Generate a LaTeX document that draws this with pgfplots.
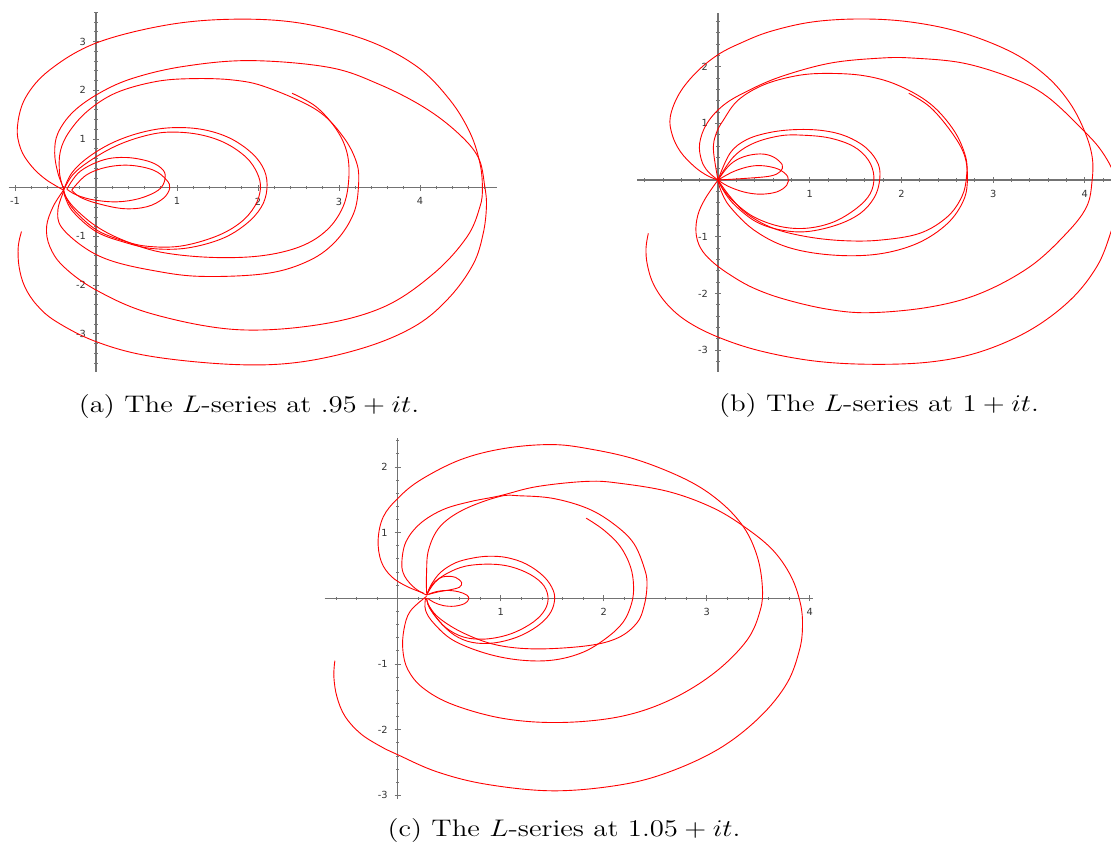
\documentclass[border=0pt]{standalone}
\usepackage{fontspec}
\usepackage{graphicx}
\usepackage{pgfplots}
\pgfplotsset{compat=1.18}
\newfontfamily\tickfont{DejaVu Sans}
\pgfplotsset{
 sage/.style={
   axis lines=middle,
   axis line style={-, black!55, line width=0.6pt},
   tick style={black!55, line width=0.4pt},
   major tick length=3pt, minor tick length=1.6pt,
   tick align=center,
   tick label style={font=\tickfont\fontsize{4.9}{5.5}\selectfont, text=black!80},
   clip=true,
   enlargelimits=false,
   anchor=origin,
 },
 lc/.style={red, line width=0.45pt, smooth, tension=0.6, mark=none, line join=round},
}
\begin{document}
\begin{tikzpicture}
\path[use as bounding box] (0,0) rectangle (555.5pt,-426pt);
% ---------------- (a) ----------------
\begin{axis}[sage, at={(48pt,-93.85pt)}, x=40.5pt, y=24.35pt,
  xmin=-1.08, xmax=4.95, ymin=-3.78, ymax=3.6,
  xtick={-1,1,2,3,4}, xticklabels={-1,1,2,3,4},
  ytick={-3,-2,-1,1,2,3}, yticklabels={-3,-2,-1,1,2,3},
  minor xtick={-1,-0.8,...,4.81}, minor ytick={-3.6,-3.4,...,3.5}]
\addplot[lc] coordinates {(-0.92,-0.90) (-0.96,-1.21) (-0.95,-1.62) (-0.88,-2.03) (-0.73,-2.41) (-0.49,-2.75) (0,-3.16) (0.67,-3.46) (1.70,-3.63) (2.52,-3.58) (3.34,-3.27) (3.96,-2.82) (4.37,-2.24) (4.66,-1.56) (4.78,-0.94) (4.82,-0.39) (4.80,0.02) (4.72,0.62) (4.47,1.12) (4.06,1.64) (3.50,2.12) (2.88,2.47) (1.90,2.61) (1.08,2.49) (0.46,2.25) (0.05,1.95) (-0.28,1.56) (-0.47,1.12) (-0.51,0.71) (-0.47,0.30) (-0.40,-0.01)};
\addplot[lc] coordinates {(-0.40,-0.05) (-0.53,-0.39) (-0.61,-0.80) (-0.57,-1.21) (-0.40,-1.62) (0,-2.10) (0.67,-2.58) (1.70,-2.91) (2.72,-2.82) (3.55,-2.45) (4.17,-1.76) (4.58,-1.01) (4.74,-0.39) (4.77,0) (4.74,0.50) (4.62,1.12) (4.37,1.80) (3.96,2.49) (3.34,3.03) (2.52,3.38) (1.70,3.46) (0.87,3.34) (0,2.97) (-0.57,2.42) (-0.87,1.85) (-0.97,1.25) (-0.93,0.80) (-0.80,0.45) (-0.62,0.17) (-0.40,-0.05)};
\addplot[lc] coordinates {(-0.40,-0.03) (-0.45,0.30) (-0.44,0.75) (-0.33,1.15) (-0.10,1.58) (0.25,1.95) (0.74,2.18) (1.20,2.24) (1.70,2.21) (2.11,2.06) (2.72,1.60) (3.05,1.05) (3.22,0.50) (3.24,0.02) (3.18,-0.53) (2.97,-1.08) (2.64,-1.49) (2.11,-1.76) (1.28,-1.82) (0.67,-1.69) (0.17,-1.49) (-0.16,-1.21) (-0.43,-0.80) (-0.47,-0.45) (-0.40,-0.08)};
\addplot[lc] coordinates {(2.42,1.94) (2.72,1.66) (2.97,1.19) (3.10,0.71) (3.12,0.16) (3.05,-0.39) (2.85,-0.87) (2.52,-1.21) (2.03,-1.40) (1.41,-1.43) (0.79,-1.32) (0.34,-1.08) (0.01,-0.80) (-0.24,-0.46) (-0.36,-0.22) (-0.40,-0.05)};
\addplot[lc] coordinates {(-0.40,-0.05) (-0.30,0.30) (-0.10,0.62) (0.20,0.92) (0.55,1.13) (0.91,1.23) (1.30,1.20) (1.65,1.02) (1.93,0.70) (2.08,0.35) (2.11,-0.03) (2.04,-0.40) (1.85,-0.75) (1.55,-1.05) (1.12,-1.24) (0.70,-1.25) (0.35,-1.12) (0.0,-0.90) (-0.28,-0.50) (-0.38,-0.20) (-0.40,-0.05)};
\addplot[lc] coordinates {(-0.40,-0.05) (-0.28,0.28) (-0.05,0.58) (0.25,0.86) (0.57,1.05) (0.88,1.14) (1.25,1.10) (1.58,0.93) (1.85,0.63) (1.99,0.30) (2.03,-0.02) (1.96,-0.38) (1.78,-0.72) (1.48,-1.00) (1.04,-1.20) (0.62,-1.20) (0.30,-1.07) (0.0,-0.86) (-0.26,-0.48) (-0.37,-0.20) (-0.40,-0.05)};
\addplot[lc] coordinates {(-0.36,-0.03) (-0.20,0.33) (0.09,0.57) (0.38,0.62) (0.67,0.53) (0.83,0.36) (0.85,0.16) (0.77,-0.05) (0.54,-0.22) (0.26,-0.29) (-0.03,-0.25) (-0.24,-0.15) (-0.36,-0.03)};
\addplot[lc] coordinates {(-0.30,-0.05) (-0.12,0.26) (0.13,0.42) (0.42,0.46) (0.71,0.36) (0.87,0.16) (0.91,-0.01) (0.83,-0.22) (0.63,-0.39) (0.34,-0.43) (0.01,-0.32) (-0.20,-0.19) (-0.30,-0.05)};
\end{axis}
% ---------------- (b) ----------------
\begin{axis}[sage, at={(359pt,-90pt)}, x=45.85pt, y=28.35pt,
  xmin=-0.88, xmax=4.29, ymin=-3.38, ymax=2.95,
  xtick={1,2,3,4}, xticklabels={1,2,3,4},
  ytick={-3,-2,-1,1,2}, yticklabels={-3,-2,-1,1,2},
  minor xtick={-0.8,-0.6,...,4.21}, minor ytick={-3.2,-3.0,...,2.9}]
\addplot[lc] coordinates {(-0.76,-0.94) (-0.785,-1.20) (-0.77,-1.50) (-0.70,-1.85) (-0.55,-2.20) (-0.33,-2.50) (0,-2.77) (0.45,-3.01) (1.04,-3.19) (1.66,-3.25) (2.31,-3.21) (2.86,-3.03) (3.40,-2.65) (3.84,-2.12) (4.13,-1.53) (4.28,-0.94) (4.36,-0.40) (4.33,0.05) (4.20,0.47) (4.00,0.85) (3.59,1.47) (3.22,1.79) (2.68,2.06) (2.13,2.15) (1.77,2.15) (1.22,2.06) (0.68,1.82) (0.31,1.56) (0.06,1.32) (-0.12,1.00) (-0.20,0.65) (-0.18,0.35) (-0.11,0.15) (0,0)};
\addplot[lc] coordinates {(0,0) (-0.14,-0.33) (-0.22,-0.62) (-0.24,-0.93) (-0.19,-1.20) (-0.07,-1.43) (0.12,-1.66) (0.38,-1.90) (0.72,-2.10) (1.20,-2.28) (1.66,-2.34) (2.31,-2.24) (2.86,-2.00) (3.40,-1.53) (3.80,-0.94) (4.02,-0.47) (4.08,0) (4.08,0.41) (4.00,0.85) (3.84,1.35) (3.59,1.82) (3.22,2.24) (2.68,2.59) (2.13,2.78) (1.59,2.84) (1.04,2.79) (0.57,2.62) (0.24,2.41) (0,2.21) (-0.23,1.91) (-0.42,1.53) (-0.52,1.12) (-0.50,0.80) (-0.41,0.50) (-0.26,0.24) (-0.12,0.08) (0,0)};
\addplot[lc] coordinates {(0,0) (-0.05,0.53) (-0.02,0.82) (0.06,1.06) (0.22,1.41) (0.50,1.68) (0.86,1.84) (1.19,1.88) (1.59,1.84) (1.95,1.68) (2.31,1.35) (2.57,0.88) (2.70,0.41) (2.71,0.06) (2.66,-0.29) (2.50,-0.65) (2.20,-0.94) (1.77,-1.06) (1.37,-1.07) (0.97,-1.00) (0.60,-0.85) (0.31,-0.59) (0.13,-0.29) (0,0)};
\addplot[lc] coordinates {(2.08,1.53) (2.31,1.29) (2.53,0.88) (2.68,0.47) (2.72,0.06) (2.68,-0.35) (2.50,-0.77) (2.17,-1.12) (1.73,-1.31) (1.22,-1.32) (0.75,-1.18) (0.39,-0.88) (0.13,-0.47) (0.03,-0.18) (0,0)};
\addplot[lc] coordinates {(0,0) (0.13,0.47) (0.31,0.71) (0.57,0.84) (0.86,0.89) (1.15,0.87) (1.40,0.77) (1.62,0.56) (1.75,0.27) (1.76,-0.03) (1.70,-0.32) (1.55,-0.59) (1.30,-0.79) (0.97,-0.91) (0.68,-0.88) (0.42,-0.74) (0.20,-0.47) (0.08,-0.24) (0,0)};
\addplot[lc] coordinates {(0,0) (0.17,0.41) (0.39,0.65) (0.68,0.78) (0.93,0.79) (1.22,0.74) (1.48,0.59) (1.64,0.35) (1.70,0.06) (1.66,-0.24) (1.51,-0.50) (1.26,-0.74) (0.97,-0.85) (0.68,-0.82) (0.39,-0.65) (0.17,-0.38) (0.05,-0.15) (0,0)};
\addplot[lc] coordinates {(0,0) (0.13,0.27) (0.28,0.41) (0.46,0.46) (0.60,0.41) (0.70,0.27) (0.68,0.15) (0.57,0.07) (0.31,0.03) (0,0)};
\addplot[lc] coordinates {(0,0) (0.17,0.15) (0.35,0.24) (0.50,0.25) (0.66,0.19) (0.76,0.06) (0.75,-0.09) (0.64,-0.21) (0.46,-0.25) (0.28,-0.21) (0.11,-0.11) (0,0)};
\end{axis}
% ---------------- (c) ----------------
\begin{axis}[sage, at={(198.85pt,-299.15pt)}, x=51.5pt, y=32.85pt,
  xmin=-0.71, xmax=4.03, ymin=-3.05, ymax=2.44,
  xtick={1,2,3,4}, xticklabels={1,2,3,4},
  ytick={-3,-2,-1,1,2}, yticklabels={-3,-2,-1,1,2},
  minor xtick={-0.6,-0.4,...,4.01}, minor ytick={-3.0,-2.8,...,2.41}]
\addplot[lc] coordinates {(-0.61,-0.95) (-0.62,-1.19) (-0.59,-1.50) (-0.51,-1.80) (-0.36,-2.06) (-0.17,-2.25) (0,-2.38) (0.38,-2.64) (0.86,-2.83) (1.51,-2.93) (2.16,-2.84) (2.64,-2.64) (3.13,-2.28) (3.52,-1.80) (3.78,-1.29) (3.90,-0.79) (3.93,-0.43) (3.91,-0.08) (3.82,0.33) (3.65,0.72) (3.40,1.05) (3.07,1.37) (2.64,1.62) (2.16,1.75) (1.84,1.78) (1.35,1.70) (0.99,1.56) (0.70,1.47) (0.44,1.35) (0.22,1.14) (0.08,0.86) (0.04,0.53) (0.07,0.33) (0.17,0.15) (0.28,0.05)};
\addplot[lc] coordinates {(0.28,0.03) (0.12,-0.20) (0.06,-0.48) (0.05,-0.79) (0.10,-1.09) (0.25,-1.37) (0.54,-1.62) (1.03,-1.83) (1.58,-1.89) (2.16,-1.80) (2.64,-1.55) (3.07,-1.14) (3.39,-0.64) (3.52,-0.18) (3.54,0.18) (3.49,0.64) (3.36,1.08) (3.13,1.47) (2.81,1.80) (2.32,2.11) (1.84,2.28) (1.48,2.34) (1.03,2.28) (0.61,2.11) (0.22,1.80) (0,1.52) (-0.14,1.24) (-0.19,0.89) (-0.16,0.56) (-0.06,0.33) (0.09,0.18) (0.25,0.08)};
\addplot[lc] coordinates {(0.28,0.08) (0.28,0.38) (0.30,0.74) (0.41,1.09) (0.64,1.35) (0.99,1.55) (1.19,1.56) (1.51,1.52) (1.84,1.37) (2.09,1.14) (2.29,0.84) (2.40,0.43) (2.42,0.18) (2.39,-0.13) (2.32,-0.38) (2.14,-0.60) (1.85,-0.72) (1.35,-0.77) (0.96,-0.71) (0.64,-0.53) (0.41,-0.31) (0.31,-0.13) (0.28,0.0)};
\addplot[lc] coordinates {(1.83,1.22) (2.00,1.04) (2.16,0.79) (2.26,0.48) (2.29,0.18) (2.27,-0.08) (2.19,-0.36) (2.03,-0.60) (1.80,-0.82) (1.51,-0.94) (1.19,-0.94) (0.86,-0.84) (0.54,-0.64) (0.35,-0.38) (0.27,-0.18) (0.27,0.0)};
\addplot[lc] coordinates {(0.28,0.05) (0.33,0.22) (0.42,0.40) (0.56,0.54) (0.72,0.61) (0.88,0.64) (1.06,0.62) (1.25,0.52) (1.42,0.33) (1.51,0.12) (1.52,-0.06) (1.47,-0.25) (1.35,-0.43) (1.16,-0.59) (0.93,-0.68) (0.72,-0.67) (0.55,-0.56) (0.41,-0.36) (0.31,-0.15) (0.28,0.0)};
\addplot[lc] coordinates {(0.28,0.05) (0.36,0.24) (0.48,0.38) (0.66,0.49) (0.90,0.52) (1.10,0.48) (1.29,0.36) (1.42,0.19) (1.46,-0.02) (1.41,-0.22) (1.28,-0.40) (1.08,-0.55) (0.85,-0.62) (0.64,-0.59) (0.47,-0.45) (0.36,-0.26) (0.29,-0.08)};
\addplot[lc] coordinates {(0.28,0.05) (0.33,0.20) (0.40,0.30) (0.47,0.335) (0.56,0.32) (0.62,0.24) (0.60,0.17) (0.51,0.13) (0.40,0.10) (0.30,0.06)};
\addplot[lc] coordinates {(0.28,0.05) (0.37,0.10) (0.48,0.12) (0.59,0.10) (0.67,0.05) (0.69,-0.01) (0.65,-0.08) (0.55,-0.12) (0.44,-0.11) (0.35,-0.06) (0.29,0.0)};
\end{axis}
% ---------------- captions ----------------
\node[anchor=base, font=\fontsize{12}{14}\selectfont, inner sep=0pt] at (124.5pt,-206pt) {\scalebox{1.2}[1]{(a) The $L$-series at $.95+it$.}};
\node[anchor=base, font=\fontsize{12}{14}\selectfont, inner sep=0pt] at (439.5pt,-205.85pt) {\scalebox{1.2}[1]{(b) The $L$-series at $1+it$.}};
\node[anchor=base, font=\fontsize{12}{14}\selectfont, inner sep=0pt] at (282pt,-418.35pt) {\scalebox{1.2}[1]{(c) The $L$-series at $1.05+it$.}};
\end{tikzpicture}
\end{document}
